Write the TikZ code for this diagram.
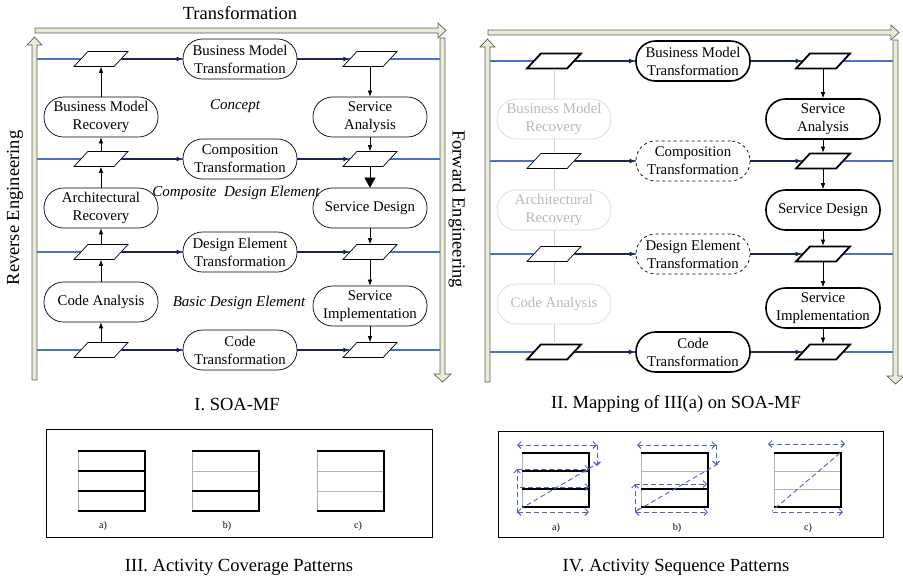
\documentclass[tikz,border=0pt]{standalone}
\usepackage{fontspec}
\setmainfont{Liberation Serif}
\usetikzlibrary{shapes.geometric,arrows.meta}
\definecolor{bandfill}{RGB}{233,234,215}
\definecolor{bandline}{RGB}{95,95,85}
\definecolor{rowblue}{RGB}{78,112,192}
\definecolor{flowdark}{RGB}{28,36,80}
\definecolor{seqblue}{RGB}{82,96,196}

\begin{document}
\begin{tikzpicture}[x=1pt,y=-1pt,
    band/.style={fill=bandfill,draw=bandline,line width=0.7pt},
    rowline/.style={rowblue,line width=1.6pt},
    flow/.style={flowdark,line width=1.5pt,-{Latex[length=6pt,width=5pt]}},
    link/.style={line width=0.6pt,-{Latex[length=6pt,width=4.5pt]}},
    datum/.style={trapezium,trapezium left angle=62,trapezium right angle=118,trapezium stretches=true,draw,fill=white,line width=0.7pt,minimum width=54pt,minimum height=15pt,inner sep=1pt},
    activity/.style={rectangle,rounded corners=19.5pt,draw,fill=white,line width=0.7pt,minimum width=114pt,minimum height=40pt,inner sep=1pt,align=center,font=\fontsize{14.8}{18}\selectfont},
    level/.style={font=\fontsize{15}{18}\selectfont\itshape},
    caption/.style={font=\fontsize{18.5}{22}\selectfont},
    tag/.style={font=\fontsize{10}{12}\selectfont},
    heavy/.style={line width=1.8pt},
    faint/.style={draw=gray!30,text=gray!55},
    faintlink/.style={gray!35,line width=0.8pt},
    grid/.style={gray!60,line width=1pt},
    cover/.style={line width=2.2pt},
    seq/.style={seqblue,line width=0.9pt,dash pattern=on 5pt off 3pt,>={Straight Barb[length=3.5pt,width=7pt]}}]
    \useasboundingbox (0,0) rectangle (903,579);
    \draw[band] (35,28) -- (438,28) -- (438,23) -- (446,30.5) -- (438,38) -- (438,33) -- (35,33) -- cycle;
    \draw[band] (32,380) -- (32,45) -- (27,45) -- (34.5,37) -- (42,45) -- (37,45) -- (37,380) -- cycle;
    \draw[band] (440,38) -- (445,38) -- (445,374) -- (451,374) -- (442.5,382) -- (434,374) -- (440,374) -- cycle;
    \node[caption] (trans) at (240,13) {Transformation};
    \node[caption,rotate=90] (reveng) at (15,208) {Reverse Engineering};
    \node[caption,rotate=-90] (foreng) at (457,209) {Forward Engineering};
    \foreach \y [count=\i] in {59,159,252,350}{
        \draw[rowline] (37,\y) -- (440,\y);
        \node[datum] (l\i) at (101,\y) {};
        \node[datum] (r\i) at (370,\y) {};
    }
    \node[activity] (bmt) at (240,59) {Business Model\\Transformation};
    \node[activity] (comp) at (240,159) {Composition\\Transformation};
    \node[activity] (det) at (240,252) {Design Element\\Transformation};
    \node[activity] (codet) at (240,350) {Code\\Transformation};
    \node[activity] (bmr) at (101,117) {Business Model\\Recovery};
    \node[activity] (arch) at (101,208) {Architectural\\Recovery};
    \node[activity] (cana) at (101,302) {Code Analysis};
    \node[activity] (sana) at (370,117) {Service\\Analysis};
    \node[activity] (sdes) at (370,208) {Service Design};
    \node[activity] (simp) at (370,306) {Service\\Implementation};
    \foreach \a/\b/\c in {l1/bmt/r1,l2/comp/r2,l3/det/r3,l4/codet/r4}{
        \draw[flow] (\a) -- (\b);
        \draw[flow] (\b) -- (\c);
    }
    \foreach \a/\b in {l4/cana,cana/l3,l3/arch,arch/l2,l2/bmr,bmr/l1,r1/sana,sana/r2,sdes/r3,r3/simp,simp/r4}
        \draw[link] (\a) -- (\b);
    \draw[line width=0.6pt,-{Triangle[length=10pt,width=11pt]}] (r2) -- (sdes);
    \node[level] (concept) at (235,106) {Concept};
    \node[level] (compel) at (236,193) {Composite\ \ Design Element};
    \node[level] (basicel) at (239,303) {Basic Design Element};
    \node[caption] (capone) at (237,404) {I. SOA-MF};

    \begin{scope}[shift={(453,2)}]
    \draw[band] (35,28) -- (438,28) -- (438,23) -- (446,30.5) -- (438,38) -- (438,33) -- (35,33) -- cycle;
    \draw[band] (32,380) -- (32,45) -- (27,45) -- (34.5,37) -- (42,45) -- (37,45) -- (37,380) -- cycle;
    \draw[band] (440,38) -- (445,38) -- (445,374) -- (451,374) -- (442.5,382) -- (434,374) -- (440,374) -- cycle;
    \foreach \y [count=\i] in {59,159,252,350}{
        \draw[rowline] (37,\y) -- (440,\y);
        \node[datum,heavy] (mr\i) at (370,\y) {};
    }
    \node[datum,heavy] (ml1) at (101,59) {};
    \node[datum] (ml2) at (101,159) {};
    \node[datum] (ml3) at (101,252) {};
    \node[datum,heavy] (ml4) at (101,350) {};
    \node[activity,line width=1.6pt] (mbmt) at (240,59) {Business Model\\Transformation};
    \node[activity,dashed] (mcomp) at (240,159) {Composition\\Transformation};
    \node[activity,dashed] (mdet) at (240,252) {Design Element\\Transformation};
    \node[activity,line width=1.6pt] (mcodet) at (240,350) {Code\\Transformation};
    \node[activity,faint] (mbmr) at (101,117) {Business Model\\Recovery};
    \node[activity,faint] (march) at (101,208) {Architectural\\Recovery};
    \node[activity,faint] (mcana) at (101,302) {Code Analysis};
    \node[activity,line width=1.6pt] (msana) at (370,117) {Service\\Analysis};
    \node[activity,line width=1.6pt] (msdes) at (370,208) {Service Design};
    \node[activity,line width=1.6pt] (msimp) at (370,306) {Service\\Implementation};
    \foreach \a/\b/\c in {ml1/mbmt/mr1,ml2/mcomp/mr2,ml3/mdet/mr3,ml4/mcodet/mr4}{
        \draw[flow] (\a) -- (\b);
        \draw[flow] (\b) -- (\c);
    }
    \foreach \a/\b in {ml4/mcana,mcana/ml3,ml3/march,march/ml2,ml2/mbmr,mbmr/ml1}
        \draw[faintlink] (\a) -- (\b);
    \foreach \a/\b in {mr1/msana,msana/mr2,mr2/msdes,msdes/mr3,mr3/msimp,msimp/mr4}
        \draw[link] (\a) -- (\b);
    \end{scope}
    \node[caption] (captwo) at (676,404) {II. Mapping of III(a) on SOA-MF};

    \draw[line width=0.8pt] (46,429) rectangle (432,537);
    \foreach \x in {78,192,317}{
        \draw[grid] (\x,451) -- (\x,511) (\x,471) -- (\x+67,471) (\x,491) -- (\x+67,491);
        \draw[cover] (\x,451) -- (\x+67,451) -- (\x+67,511) -- (\x,511);
    }
    \draw[cover] (78,471) -- (145,471) (78,491) -- (145,491) (192,491) -- (259,491);
    \node[tag] (cova) at (103,526) {a)};
    \node[tag] (covb) at (227,526) {b)};
    \node[tag] (covc) at (358,526) {c)};
    \node[caption] (capthree) at (239,567) {III. Activity Coverage Patterns};

    \draw[line width=0.8pt] (498,431) rectangle (883,537);
    \foreach \x in {522,641,774}{
        \draw[grid] (\x,453) -- (\x,507) (\x,471) -- (\x+67,471) (\x,489) -- (\x+67,489);
        \draw[cover] (\x,453) -- (\x+67,453) -- (\x+67,507) -- (\x,507);
    }
    \draw[cover] (522,471) -- (589,471) (522,489) -- (589,489) (641,489) -- (708,489);
    \begin{scope}[seq]
    \draw[<->] (517,445) -- (597,445);
    \draw[->] (597,445) -- (597,466);
    \draw (600,462) -- (522,508);
    \draw[->] (517,513) -- (517,469);
    \draw[->] (517,469) -- (589,469);
    \draw[->] (520,487) -- (589,487);
    \draw[<->] (517,512) -- (589,512);
    \draw[<->] (637,445) -- (716,445);
    \draw[->] (716,445) -- (716,465);
    \draw (718,464) -- (638,510);
    \draw[->] (635,512) -- (635,484);
    \draw[->] (635,484) -- (707,484);
    \draw[<->] (635,512) -- (708,512);
    \draw[<->] (768,444) -- (845,444);
    \draw (840,453) -- (772,511);
    \draw[->] (773,512) -- (843,512);
    \end{scope}
    \node[tag] (seqa) at (556,528) {a)};
    \node[tag] (seqb) at (677,528) {b)};
    \node[tag] (seqc) at (808,528) {c)};
    \node[caption] (capfour) at (676,567) {IV. Activity Sequence Patterns};
\end{tikzpicture}
\end{document}
